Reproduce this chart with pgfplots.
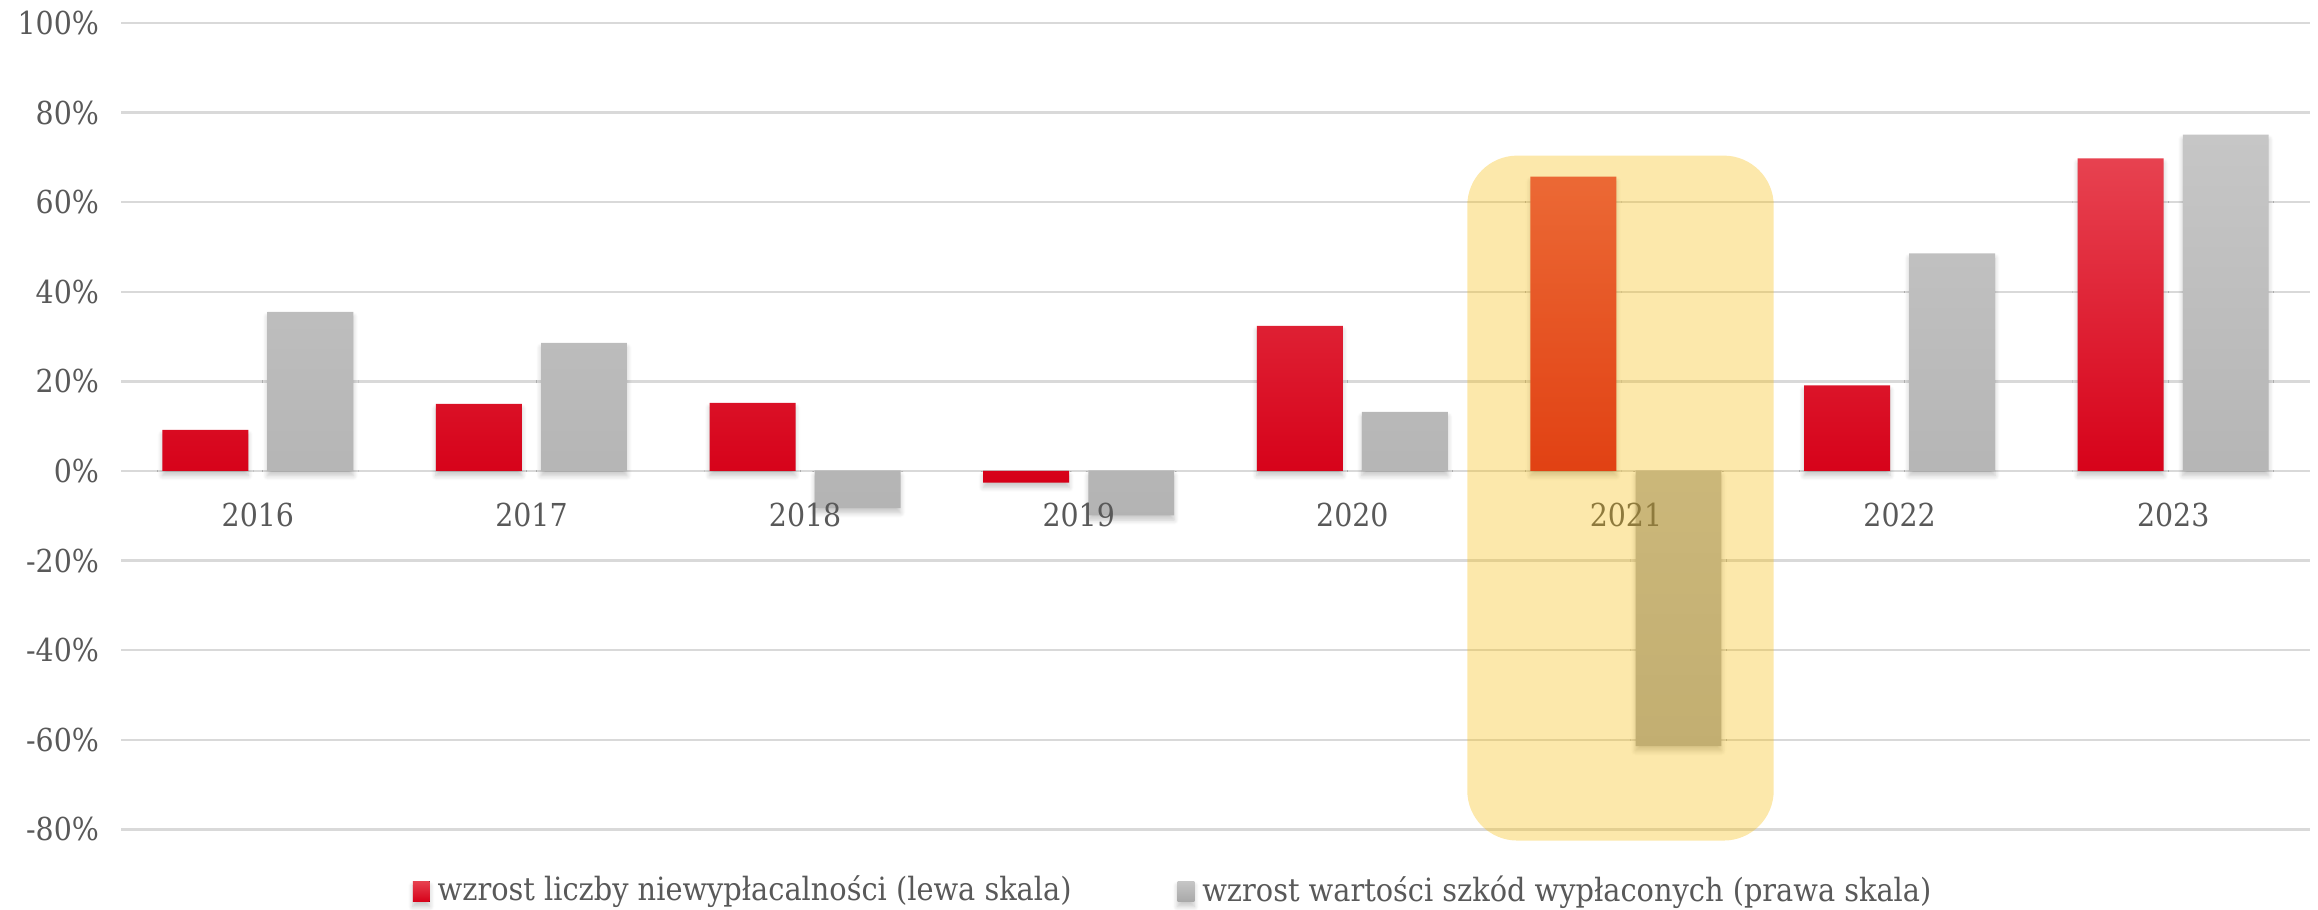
\documentclass[border=0pt]{standalone}
\usepackage{pgfplots}
\pgfplotsset{compat=1.18}
\usetikzlibrary{shadows.blur}
\usepackage{fontspec}
\setmainfont{DejaVu Serif Condensed}

\definecolor{txt}{RGB}{89,89,89}
\definecolor{gridc}{RGB}{217,217,217}
\definecolor{redT}{RGB}{231,66,80}
\definecolor{redM}{RGB}{229,0,35}
\definecolor{redB}{RGB}{214,0,24}
\definecolor{greyT}{RGB}{198,198,198}
\definecolor{greyB}{RGB}{168,168,168}
\definecolor{hilite}{RGB}{247,188,8}

\pgfplotsset{
    frame/.style={
        scale only axis,
        width=547pt, height=201.5pt,
        xmin=-0.5, xmax=7.5,
        ymin=-80, ymax=100,
        xtick={0,...,7},
        ytick={-80,-60,...,100},
        axis line style={draw=none},
        major tick length=0pt,
        tick label style={font=\fontsize{7.9}{9}\selectfont, text=txt},
    },
}

\pgfplotstableread{
x red grey
0 9.2 35.5
1 15.0 28.6
2 15.2 -8.3
3 -2.6 -9.9
4 32.4 13.2
5 65.7 -61.4
6 19.1 48.6
7 69.8 75.1
}\growth

\begin{document}
\begin{tikzpicture}
% bars, grid and y labels
\begin{axis}[
    frame,
    xticklabels={},
    yticklabels={-80\%,-60\%,-40\%,-20\%,0\%,20\%,40\%,60\%,80\%,100\%},
    ymajorgrids,
    grid style={gridc, line width=0.6pt},
    yticklabel style={xshift=-2pt},
    legend style={draw=none, fill=none, at={(0.482,-0.077)}, anchor=center,
        font=\fontsize{8}{9}\selectfont, text=txt, legend columns=2,
        /tikz/every even column/.append style={column sep=24.5pt}},
    legend image code/.code={\fill[#1] (0pt,-2.6pt) rectangle (4.2pt,2.6pt);},
    barshadow/.style={blur shadow={shadow xshift=0pt, shadow yshift=-1.2pt,
        shadow blur radius=1.2pt, shadow opacity=22, shadow blur steps=6}},
]
\addplot[ybar, bar width=0.314, bar shift=-0.192, draw=none, barshadow,
    top color=redT, middle color=redM, bottom color=redB] table[x=x, y=red] {\growth};
\addlegendentry{wzrost liczby niewypłacalności (lewa skala)}
\addplot[ybar, bar width=0.314, bar shift=0.192, draw=none, barshadow,
    top color=greyT, bottom color=greyB] table[x=x, y=grey] {\growth};
\addlegendentry{wzrost wartości szkód wypłaconych (prawa skala)}
\coordinate (ll) at (rel axis cs:0,0);
\coordinate (ur) at (rel axis cs:1,1);
\coordinate (hl) at (axis cs:4.42,-82.5);
\coordinate (hr) at (axis cs:5.54,70.4);
\end{axis}
% year labels on top of the bars
\begin{axis}[
    frame,
    xticklabels={2016,2017,2018,2019,2020,2021,2022,2023},
    yticklabels={},
    xticklabel style={yshift=89.56pt, anchor=north, yshift=-4.5pt},
]
\end{axis}
\fill[hilite, fill opacity=0.34, rounded corners=12.5pt] (hl) rectangle (hr);
\pgfresetboundingbox
\path[use as bounding box] ([xshift=-30.25pt, yshift=-20pt]ll) rectangle ([xshift=2pt, yshift=5.75pt]ur);
\end{tikzpicture}
\end{document}
